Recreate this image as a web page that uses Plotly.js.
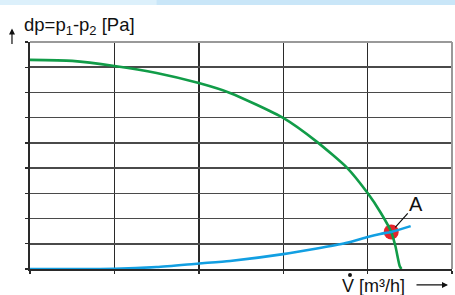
<!DOCTYPE html>
<html>
<head>
<meta charset="utf-8">
<script src="https://cdn.plot.ly/plotly-3.0.1.min.js"></script>
<style>html,body{margin:0;padding:0;background:#fff;}#chart{width:455px;height:295px;}</style>
</head>
<body>
<div id="chart"></div>
<script>
// Fan curve (green)
const fanX = [0, 0.5, 1.0, 1.5, 2.0, 2.37, 3.0, 3.40, 3.76, 4.0, 4.15, 4.28, 4.33, 4.38, 4.40];
const fanY = [8.29, 8.25, 8.05, 7.77, 7.37, 6.98, 5.99, 5.04, 4.00, 3.01, 2.26, 1.47, 0.90, 0.12, 0.0];
// System curve (blue)
const sysX = [0, 1.0, 1.5, 2.0, 2.37, 3.0, 3.74, 4.0, 4.15, 4.28, 4.51];
const sysY = [0, 0.01, 0.08, 0.22, 0.32, 0.59, 1.03, 1.27, 1.39, 1.47, 1.70];
// Operating point A
const pointA = {x: 4.28, y: 1.47, label: 'A'};
const yTitle = 'dp=p<sub>1</sub>-p<sub>2</sub> [Pa]';
const xTitle = 'V [m³/h]';

const font = 'Arial, "Liberation Sans", sans-serif';

const traces = [
  {x: [pointA.x], y: [pointA.y], mode: 'markers', type: 'scatter',
   marker: {size: 15, color: '#e5232b'}, hoverinfo: 'skip'},
  {x: fanX, y: fanY, mode: 'lines', type: 'scatter',
   line: {color: '#119c48', width: 2.6, shape: 'spline', smoothing: 0.6}},
  {x: sysX, y: sysY, mode: 'lines', type: 'scatter',
   line: {color: '#129fe2', width: 2.6, shape: 'spline', smoothing: 0.6}}
];

const layout = {
  width: 455, height: 295,
  margin: {l: 30, r: 3, t: 42, b: 26, pad: 0},
  paper_bgcolor: '#fff', plot_bgcolor: '#fff',
  showlegend: false,
  xaxis: {range: [0, 5], dtick: 1, tick0: 0, showgrid: true, gridcolor: '#2a2a2a', gridwidth: 1.4,
          zeroline: false, showline: true, linecolor: '#2a2a2a', linewidth: 1.6,
          ticks: 'outside', ticklen: 3, tickcolor: '#2a2a2a', tickwidth: 1.4,
          showticklabels: false, fixedrange: true},
  yaxis: {range: [0, 9], dtick: 1, tick0: 0, showgrid: true, gridcolor: '#4a4a4a', gridwidth: 1.6,
          zeroline: false, showline: true, linecolor: '#2a2a2a', linewidth: 1.6,
          ticks: 'outside', ticklen: 3, tickcolor: '#2a2a2a', tickwidth: 1.4,
          showticklabels: false, fixedrange: true},
  shapes: [
    {type: 'rect', xref: 'paper', yref: 'paper', x0: -0.08, x1: 1.02, y0: 1.163, y1: 1.2,
     fillcolor: '#c9e6f8', line: {width: 0}, layer: 'below'},
    {type: 'rect', xref: 'paper', yref: 'paper', x0: -0.08, x1: 0.3, y0: 1.163, y1: 1.2,
     fillcolor: '#dcf0fb', line: {width: 0}, layer: 'below'},
    {type: 'line', xref: 'paper', yref: 'paper', x0: 0, x1: 1, y0: 1, y1: 1,
     line: {color: '#999', width: 2}},
    {type: 'line', xref: 'paper', yref: 'paper', x0: 1, x1: 1, y0: 0, y1: 1,
     line: {color: '#999', width: 2}},
    {type: 'circle', xref: 'paper', yref: 'paper', x0: 0.7536, x1: 0.7630, y0: -0.0176, y1: -0.0352,
     fillcolor: '#111', line: {width: 0}}
  ],
  annotations: [
    {xref: 'paper', yref: 'paper', x: -0.0427, y: 1.06, ax: 0, ay: 17, text: '',
     showarrow: true, arrowhead: 2, arrowsize: 1, arrowwidth: 1.2, arrowcolor: '#111'},
    {xref: 'paper', yref: 'paper', x: -0.019, y: 1.0, xanchor: 'left', yanchor: 'bottom', yshift: 2,
     text: yTitle, showarrow: false, font: {family: font, size: 18.5, color: '#111'}},
    {xref: 'paper', yref: 'paper', x: 0.7345, y: -0.1145, xanchor: 'left', yanchor: 'bottom', yshift: -3,
     text: xTitle, showarrow: false, font: {family: font, size: 18, color: '#111'}},
    {xref: 'paper', yref: 'paper', x: 0.9905, y: -0.07, ax: -33, ay: 0, text: '',
     showarrow: true, arrowhead: 2, arrowsize: 1, arrowwidth: 1.2, arrowcolor: '#111'},
    {x: pointA.x, y: pointA.y, xref: 'x', yref: 'y', text: pointA.label,
     showarrow: true, arrowhead: 0, arrowwidth: 1.2, arrowcolor: '#111', ax: 25, ay: -28, standoff: 6,
     font: {family: font, size: 20, color: '#111'}}
  ]
};

Plotly.newPlot('chart', traces, layout, {displayModeBar: false, staticPlot: true});
</script>
</body>
</html>
